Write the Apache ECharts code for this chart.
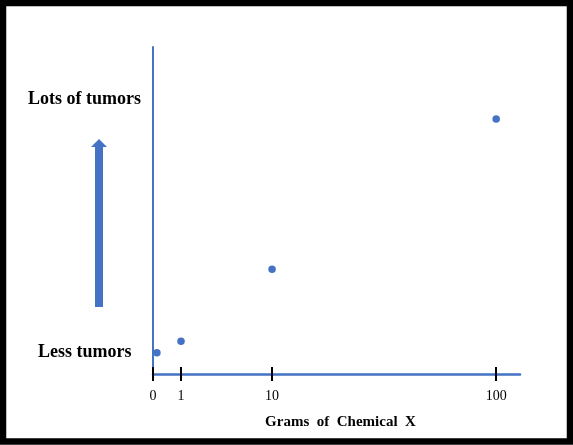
<!DOCTYPE html>
<html>
<head>
<meta charset="utf-8">
<script src="https://cdn.jsdelivr.net/npm/echarts@6/dist/echarts.min.js"></script>
<style>
  html, body { margin: 0; padding: 0; background: #fff; }
  #chart { width: 573px; height: 445px; }
</style>
</head>
<body>
<div id="chart"></div>
<script>
// dose ticks on the hand drawn x axis, and where each sits along the axis (uneven spacing)
var gramTicks = [0, 1, 10, 100];
var tickSlots = [0, 1, 4.25, 12.25];

// points: grams of chemical X vs. tumor level (0 = axis, 100 = top)
var grams = [0.14, 1, 10, 100];
var tumors = [6.5, 10, 32, 78];

var blue = '#4472C4';
var serif = '"Liberation Serif", "Times New Roman", serif';

// piecewise linear: grams -> slot on the axis
function toSlot(g) {
    for (var i = 1; i < gramTicks.length; i++) {
        if (g <= gramTicks[i]) {
            var t = (g - gramTicks[i-1]) / (gramTicks[i] - gramTicks[i-1]);
            return tickSlots[i-1] + t * (tickSlots[i] - tickSlots[i-1]);
        }
    }
    return tickSlots[tickSlots.length - 1];
}

var pts = [];
for (var i = 0; i < grams.length; i++) {
    pts.push([toSlot(grams[i]), tumors[i]]);
}

var myChart = echarts.init(document.getElementById('chart'), null, {renderer: 'canvas'});

var option = {
    animation: false,
    backgroundColor: '#fff',
    grid: {left: 153, right: 53, top: 47, bottom: 71},
    xAxis: [{
        type: 'value',
        min: 0,
        max: 13.1,
        splitLine: {show: false},
        axisLine: {show: true, lineStyle: {color: blue, width: 2.5}},
        axisTick: {show: true, length: 7, lineStyle: {color: '#000', width: 2}, customValues: tickSlots},
        axisLabel: {
            show: true,
            customValues: tickSlots,
            margin: 15,
            fontFamily: serif,
            fontSize: 14,
            color: '#000',
            formatter: function(v) {
                var k = tickSlots.indexOf(v);
                return k >= 0 ? String(gramTicks[k]) : '';
            }
        },
        name: 'Grams  of  Chemical  X',
        nameLocation: 'middle',
        nameGap: 41,
        nameTextStyle: {fontFamily: serif, fontSize: 15, fontWeight: 'bold', color: '#000', padding: [0, 0, 0, 8]}
    }, {
        // second copy only for the upper half of each tick
        type: 'value',
        position: 'bottom',
        min: 0,
        max: 13.1,
        splitLine: {show: false},
        axisLine: {show: false},
        axisTick: {show: true, inside: true, length: 7, lineStyle: {color: '#000', width: 2}, customValues: tickSlots},
        axisLabel: {show: false}
    }],
    yAxis: {
        type: 'value',
        min: 0,
        max: 100,
        splitLine: {show: false},
        axisLine: {show: true, lineStyle: {color: blue, width: 2}},
        axisTick: {show: false},
        axisLabel: {show: false}
    },
    series: [{
        type: 'scatter',
        data: pts,
        symbolSize: 7.5,
        itemStyle: {color: blue, opacity: 1}
    }],
    graphic: [
        {
            type: 'rect',
            z: 100,
            shape: {x: 3, y: 3, width: 567, height: 438.5},
            style: {fill: 'none', stroke: '#000', lineWidth: 6.5}
        },
        {
            type: 'text',
            left: 28, top: 90,
            style: {text: 'Lots of tumors', font: 'bold 18px ' + serif, fill: '#000'}
        },
        {
            type: 'text',
            left: 38, top: 343,
            style: {text: 'Less tumors', font: 'bold 18px ' + serif, fill: '#000'}
        },
        {
            // the up arrow next to the y axis
            type: 'polygon',
            shape: {points: [[95, 307], [95, 147], [91, 147], [99, 139], [107, 147], [103, 147], [103, 307]]},
            style: {fill: blue}
        }
    ]
};

myChart.setOption(option);
</script>
</body>
</html>
